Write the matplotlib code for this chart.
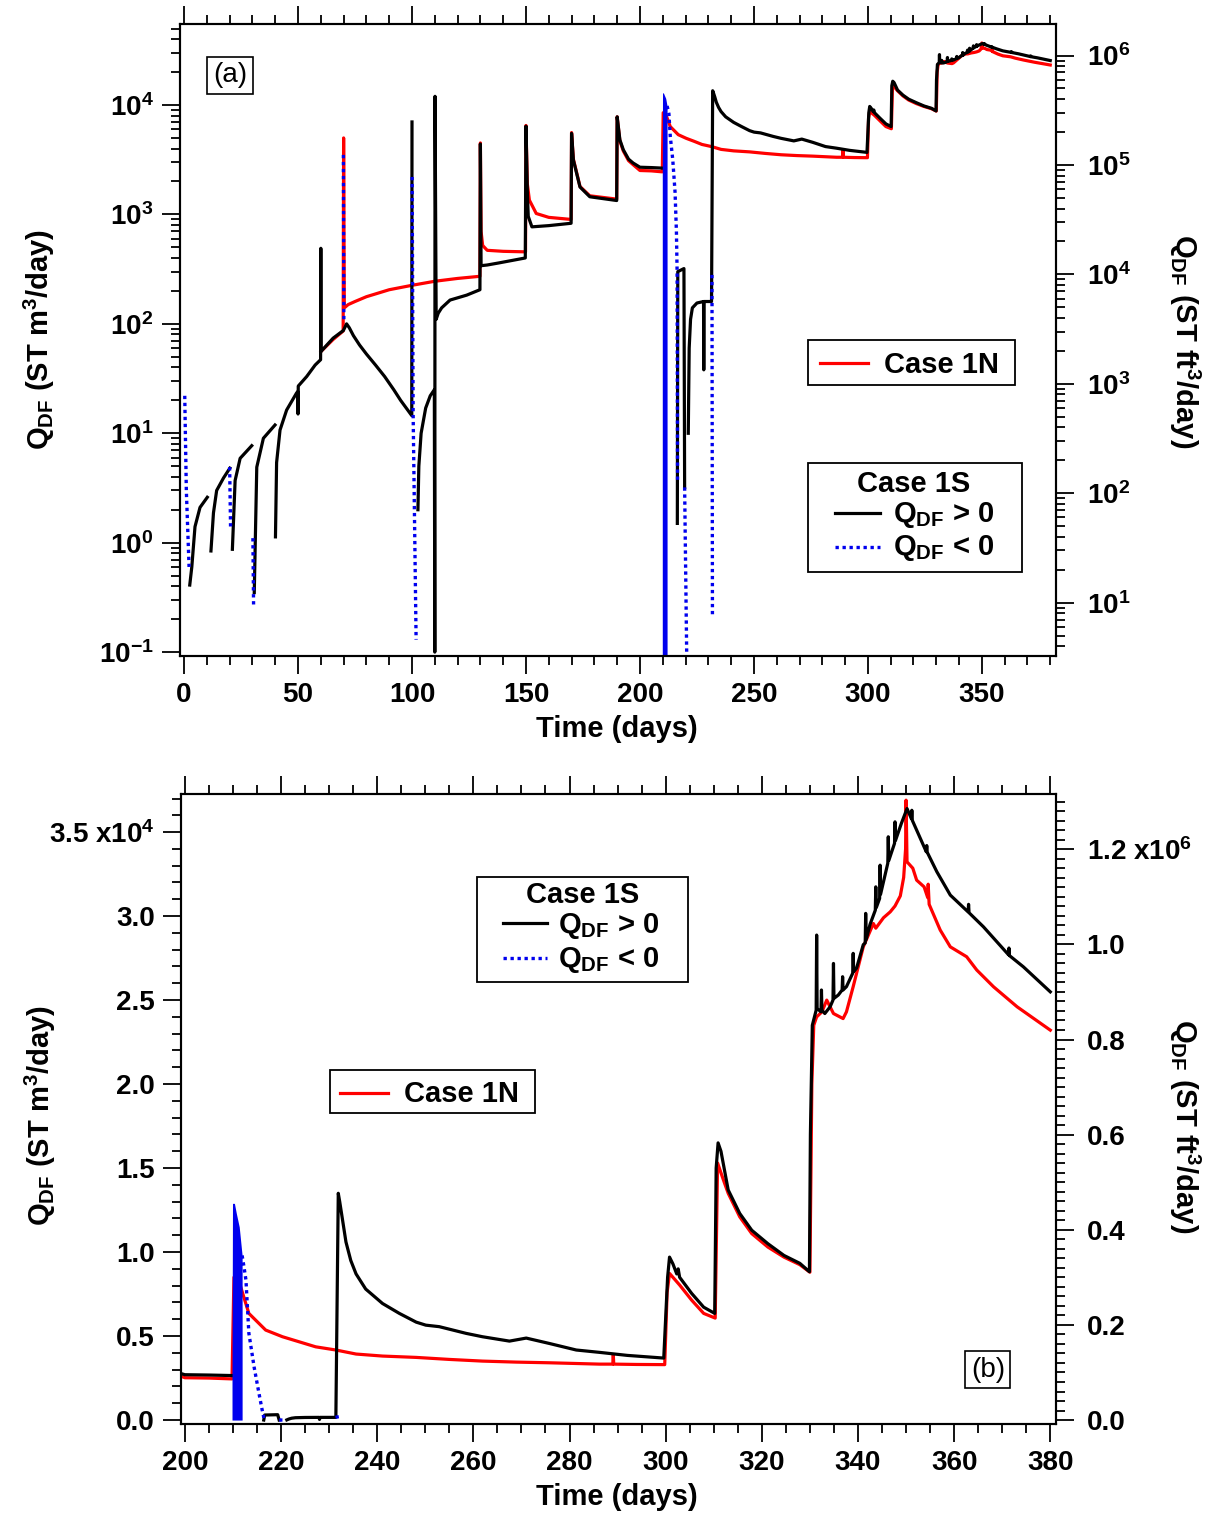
import numpy as np
import matplotlib
matplotlib.use('Agg')
import matplotlib.pyplot as plt
from matplotlib.ticker import MultipleLocator, LogLocator, FixedLocator, FuncFormatter, NullFormatter
from matplotlib.patches import Rectangle

plt.rcParams['font.family'] = 'Liberation Sans'
plt.rcParams['font.weight'] = 'bold'
plt.rcParams['axes.labelweight'] = 'bold'
plt.rcParams['font.size'] = 21
plt.rcParams['mathtext.fontset'] = 'custom'
plt.rcParams['mathtext.rm'] = 'Liberation Sans:bold'
plt.rcParams['mathtext.bf'] = 'Liberation Sans:bold'
plt.rcParams['mathtext.it'] = 'Liberation Sans:bold'
plt.rcParams['mathtext.default'] = 'rm'
plt.rcParams['axes.linewidth'] = 1.5

M3_TO_FT3 = 35.3147
GAP = (np.nan, np.nan)

# Case 1N, Q_DF (ST m3/day) vs time (days)
case_1n = [
    (60.1, 56), (65.4, 72), (69.8, 86), (70.0, 5000), (70.3, 140), (72, 150), (75, 160),
    (80, 177), (90, 205), (100, 225), (110, 245), (120, 260), (129.8, 272),
    (130.0, 4500), (130.3, 700), (131, 520), (133, 470), (140, 460), (149.8, 455),
    (150.0, 6500), (150.6, 1900), (151.5, 1350), (154.5, 1020), (160, 940), (169.8, 900),
    (170.0, 5600), (170.8, 3200), (173.7, 1800), (178, 1480), (189.8, 1380),
    (190.0, 7800), (191.2, 4700), (192.7, 3800), (195, 3100), (197, 2850), (200, 2520),
    (205, 2500), (209.8, 2450), (210.2, 8500), (211.6, 7935), (213.3, 6350), (216.8, 5357),
    (220.3, 4960), (223.75, 4660), (227.2, 4360), (231.4, 4170), (235.6, 3930), (241.1, 3810),
    (248.1, 3730), (255, 3610), (261.9, 3510), (268.9, 3450), (275.8, 3410), (286.25, 3330),
    (289.0, 3330), (289.1, 3900), (289.2, 3330), (294, 3310), (299.8, 3300),
    (300.3, 7600), (300.8, 8730), (302.9, 8040), (305.4, 7140), (307.9, 6350), (310.3, 6070),
    (310.8, 15300), (312, 14300), (313, 13500), (315.4, 12100), (317.9, 11100), (321.25, 10300),
    (324.6, 9700), (327.9, 9250), (330.0, 8800), (330.4, 20000), (330.8, 23500), (331.4, 24000),
    (332.5, 24300), (333.5, 25000), (334.9, 24200), (336.9, 23900), (337.6, 24300), (339, 25800),
    (341.1, 28170), (343.2, 29560), (343.7, 29280), (345.3, 29900), (346.7, 30250), (347.7, 30600),
    (348.8, 31200), (349.5, 32300), (349.9, 34000), (350.0, 36900), (350.2, 33230), (351.4, 32850),
    (352.2, 32140), (353.75, 31740), (354.5, 31100), (354.6, 31900), (354.8, 30700), (357.1, 29170),
    (359.2, 28170), (362.6, 27580), (364.7, 26790), (368.2, 25790), (373.1, 24600), (380, 23210),
]

# Case 1S, Q_DF > 0
case_1s_pos = [
    (2.5, 0.41), (3.4, 0.6), (4.8, 1.4), (7.0, 2.1), (10.2, 2.6), GAP,
    (11.8, 0.84), (12.9, 1.87), (14.3, 3.0), (17.3, 3.9), (20.1, 4.8), GAP,
    (21.2, 0.87), (22.4, 3.7), (24.6, 5.9), (29.7, 7.7), GAP,
    (30.8, 0.35), (31.9, 4.9), (34.8, 9.0), (39.9, 11.9), GAP,
    (40.1, 1.13), (40.6, 5.4), (42.1, 10.7), (45.0, 16.3), (49.4, 23.4), (49.9, 24), (50.0, 15),
    (50.1, 27), (53.8, 33), (57.5, 42), (59.9, 47), (60.0, 490), (60.1, 56), (65.4, 74),
    (69.9, 87), (71.3, 100), (72.5, 92), (74.3, 78), (77, 64), (80, 53), (84, 42), (88, 33),
    (92, 25), (95, 20), (99.9, 14.5), (100.0, 7000), GAP,
    (102.6, 2.0), (103.0, 5), (104, 10), (106, 17), (108, 22), (109.8, 25), (110.0, 0.1),
    (110.1, 12000), (110.6, 110), (111.5, 125), (113, 140), (116.7, 165), (124, 183), (129.8, 205),
    (130.0, 4400), (130.3, 340), (133, 345), (138, 360), (149.7, 400),
    (150.0, 6400), (150.6, 1600), (151.0, 960), (152.6, 770), (160, 790), (169.8, 830),
    (170.0, 5500), (170.8, 3140), (173.7, 1780), (178, 1450), (189.8, 1340),
    (190.0, 7800), (191.2, 4800), (192.7, 3900), (195, 3200), (197, 2950), (200, 2700),
    (205, 2680), (209.8, 2650), GAP,
    (216.4, 1.5), (216.6, 300), (219.3, 320), (219.6, 3.2), GAP,
    (221.2, 10), (221.6, 60), (222.2, 110), (223.0, 140), (225, 155), (227.9, 160), (228.0, 38),
    (228.1, 160), (231.4, 160), (231.9, 13500), (232.2, 13000), (232.8, 11900), (233.5, 10600),
    (234.5, 9500), (235.6, 8700), (237.6, 7800), (241.1, 6940), (244.6, 6350), (248.1, 5830),
    (250.1, 5650), (252.9, 5560), (258.5, 5160), (261.9, 4960), (267.5, 4700), (271, 4880),
    (275.8, 4560), (281.4, 4170), (286.25, 4030), (292, 3850), (299.6, 3690),
    (300.4, 8500), (300.8, 9700), (301.5, 9300), (302.3, 8700), (302.6, 9000), (302.9, 8500),
    (305.4, 7540), (307.9, 6720), (310.2, 6350), (310.5, 15000), (310.9, 16500), (311.5, 16000),
    (313, 13700), (315.4, 12300), (317.9, 11300), (321.25, 10500), (324.6, 9800), (327.9, 9330),
    (329.9, 8830), (330.1, 17000), (330.5, 23500), (331.3, 24400), (331.4, 28870), (331.5, 24500),
    (332.3, 24300), (332.4, 25600), (332.5, 24400), (333.1, 24200), (334.2, 24600), (334.8, 25000),
    (334.9, 27180), (335.0, 25100), (335.9, 25300), (336.7, 25600), (336.8, 26390), (336.9, 25600),
    (337.6, 25800), (338.9, 26600), (339.0, 27780), (339.1, 26700), (339.7, 26900), (341.1, 28300),
    (341.5, 28400), (341.6, 30160), (341.7, 28600), (342.5, 29500), (343.6, 30350), (343.7, 31740),
    (343.8, 30500), (344.5, 31050), (344.6, 33030), (344.7, 31300), (346.2, 33150), (346.3, 34720),
    (346.4, 33300), (347.6, 34330), (347.7, 35610), (347.8, 34500), (349.0, 35500), (350.2, 36400),
    (351.1, 35800), (351.2, 36300), (351.3, 35700), (352.2, 35120), (354.2, 33830), (354.3, 34200),
    (354.4, 33800), (356.4, 32640), (359.2, 31250), (362.9, 30250), (363.0, 30700), (363.1, 30200),
    (366.1, 29360), (371.3, 27700), (371.4, 28100), (371.5, 27650), (374.4, 26980), (380, 25490),
]

# Case 1S, |Q_DF| where Q_DF < 0
case_1s_neg = [
    (0.3, 22), (1.0, 3), (2.2, 0.6), GAP,
    (20.0, 4.9), (20.4, 1.4), GAP,
    (30.2, 1.1), (30.5, 0.27), GAP,
    (69.9, 3500), (70.1, 110), GAP,
    (100.05, 2200), (100.5, 15), (101.8, 0.13), GAP,
    (211.9, 9800), (212.3, 9100), (212.7, 8330), (213.3, 5180), (214.4, 3150), (215.4, 1600),
    (216.0, 700), (216.3, 300), (216.5, 3.5), GAP,
    (219.6, 3.2), (220.5, 0.1), GAP,
    (231.6, 280), (231.8, 0.22),
]

# rapid sign switching around day 210 (upper envelope of |Q_DF|)
switch_t = [209.8, 209.9, 210.3, 210.7, 211.3, 211.9]
switch_q = [2500, 12900, 12900, 12300, 11500, 9800]

t_1n, q_1n = np.array(case_1n, dtype=float).T
t_pos, q_pos = np.array(case_1s_pos, dtype=float).T
t_neg, q_neg = np.array(case_1s_neg, dtype=float).T

RED = dict(color='#ff0000', lw=2.3, zorder=2)
BLACK = dict(color='black', lw=2.3, zorder=2.1)
BLUE = dict(color='#0000ee', lw=2.4, linestyle=(0, (1, 1.1)), zorder=2.2)


def draw_series(ax):
    ax.plot(t_1n, q_1n, **RED)
    ax.plot(t_pos, q_pos, **BLACK)
    ax.fill_between(switch_t, 0.05, switch_q, color='#0000ee', lw=0, zorder=2.2)
    ax.plot(t_neg, q_neg, **BLUE)


def key_box(ax, box, title=None, rows=()):
    x0, y0, x1, y1 = box
    ax.add_patch(Rectangle((x0, y0), x1 - x0, y1 - y0, transform=ax.transAxes,
                           facecolor='white', edgecolor='black', lw=1.3, zorder=5))
    if title:
        ax.text(title[0], title[1], title[2], transform=ax.transAxes,
                ha='center', va='baseline', zorder=6)
    for lx0, lx1, ly, style, tx, ty, label in rows:
        st = dict(style)
        st['zorder'] = 6
        ax.plot([lx0, lx1], [ly, ly], transform=ax.transAxes, **st)
        ax.text(tx, ty, label, transform=ax.transAxes, va='baseline', zorder=6)


def style_ticks(a):
    a.tick_params(which='major', direction='out', length=13, width=1.3, labelsize=20, pad=6)
    a.tick_params(which='minor', direction='out', length=6.5, width=1.3)


def log_label(v, pos):
    return r'$10^{%d}$' % round(np.log10(v))


def lin_label(scale, power, top):
    def f(v, pos):
        s = '%.1f' % (v / scale + 0.0)
        if abs(v - top) < 1:
            s += r' x10$^{%d}$' % power
        return s
    return f


fig = plt.figure(figsize=(12.25, 15.19), dpi=100)

# ---------------- (a) log scale ----------------
ax = fig.add_axes([0.1469, 0.5681, 0.7151, 0.4161])
draw_series(ax)
ax.set_yscale('log')
ax.set_xlim(-1.8, 382.5)
ax.set_ylim(0.092, 5.5e4)
ax.xaxis.set_major_locator(MultipleLocator(50))
ax.xaxis.set_minor_locator(MultipleLocator(10))
ax.yaxis.set_major_locator(FixedLocator([1e-1, 1e0, 1e1, 1e2, 1e3, 1e4]))
ax.yaxis.set_major_formatter(FuncFormatter(log_label))
ax.yaxis.set_minor_locator(LogLocator(base=10, subs=np.arange(2, 10)))
ax.yaxis.set_minor_formatter(NullFormatter())
style_ticks(ax)
ax.tick_params(axis='x', which='both', top=True)
ax.set_xlabel('Time (days)')
ax.xaxis.set_label_coords(0.499, -0.093)
ax.set_ylabel(r'Q$_{\rm DF}$ (ST m$^{3}$/day)', va='center')
ax.yaxis.set_label_coords(-0.16, 0.5)

ax2 = ax.twinx()
ax2.set_yscale('log')
ax2.set_ylim(0.092 * M3_TO_FT3, 5.5e4 * M3_TO_FT3)
ax2.yaxis.set_major_locator(FixedLocator([1e1, 1e2, 1e3, 1e4, 1e5, 1e6]))
ax2.yaxis.set_major_formatter(FuncFormatter(log_label))
ax2.yaxis.set_minor_locator(LogLocator(base=10, subs=np.arange(2, 10)))
ax2.yaxis.set_minor_formatter(NullFormatter())
style_ticks(ax2)
ax2.tick_params(axis='y', which='major', pad=9)
ax2.set_ylabel(r'Q$_{\rm DF}$ (ST ft$^{3}$/day)', rotation=270, va='center')
ax2.yaxis.set_label_coords(1.147, 0.498)
style_ticks(ax)
ax.tick_params(axis='y', which='both', left=True, right=False)

ax.text(0.057, 0.919, '(a)', transform=ax.transAxes, ha='center', va='center',
        fontweight='normal', fontsize=20,
        bbox=dict(boxstyle='square,pad=0.2', fc='white', ec='black', lw=1.2))

key_box(ax, (0.717, 0.429, 0.953, 0.500),
        rows=[(0.731, 0.785, 0.4636, RED, 0.804, 0.448, 'Case 1N')])
key_box(ax, (0.717, 0.133, 0.961, 0.305), title=(0.838, 0.2595, 'Case 1S'),
        rows=[(0.748, 0.799, 0.2263, BLACK, 0.814, 0.212, r'Q$_{\rm DF}$ > 0'),
              (0.748, 0.799, 0.1725, BLUE, 0.814, 0.160, r'Q$_{\rm DF}$ < 0')])

# ---------------- (b) linear scale ----------------
bx = fig.add_axes([0.1478, 0.0625, 0.7143, 0.4147])
draw_series(bx)
bx.set_xlim(199.2, 381.2)
bx.set_ylim(-238, 37260)
bx.xaxis.set_major_locator(MultipleLocator(20))
bx.xaxis.set_minor_locator(MultipleLocator(5))
bx.yaxis.set_major_locator(MultipleLocator(5000))
bx.yaxis.set_minor_locator(MultipleLocator(1000))
bx.yaxis.set_major_formatter(FuncFormatter(lin_label(1e4, 4, 35000)))
style_ticks(bx)
bx.tick_params(axis='x', which='both', top=True)
bx.set_xlabel('Time (days)')
bx.xaxis.set_label_coords(0.498, -0.093)
bx.set_ylabel(r'Q$_{\rm DF}$ (ST m$^{3}$/day)', va='center')
bx.yaxis.set_label_coords(-0.161, 0.49)

bx2 = bx.twinx()
bx2.set_ylim(-238 * M3_TO_FT3, 37260 * M3_TO_FT3)
bx2.yaxis.set_major_locator(MultipleLocator(2e5))
bx2.yaxis.set_minor_locator(MultipleLocator(2e4))
bx2.yaxis.set_major_formatter(FuncFormatter(lin_label(1e6, 6, 1.2e6)))
style_ticks(bx2)
bx2.tick_params(axis='y', which='major', pad=9)
bx2.set_ylabel(r'Q$_{\rm DF}$ (ST ft$^{3}$/day)', rotation=270, va='center')
bx2.yaxis.set_label_coords(1.147, 0.473)
bx.tick_params(axis='y', which='both', left=True, right=False)

bx.text(0.922, 0.086, '(b)', transform=bx.transAxes, ha='center', va='center',
        fontweight='normal', fontsize=20,
        bbox=dict(boxstyle='square,pad=0.2', fc='white', ec='black', lw=1.2))

key_box(bx, (0.338, 0.702, 0.579, 0.868), title=(0.459, 0.827, 'Case 1S'),
        rows=[(0.368, 0.418, 0.795, BLACK, 0.431, 0.779, r'Q$_{\rm DF}$ > 0'),
              (0.368, 0.418, 0.740, BLUE, 0.431, 0.725, r'Q$_{\rm DF}$ < 0')])
key_box(bx, (0.170, 0.494, 0.405, 0.562),
        rows=[(0.182, 0.237, 0.525, RED, 0.255, 0.511, 'Case 1N')])

fig.savefig('out.png', dpi=100)
